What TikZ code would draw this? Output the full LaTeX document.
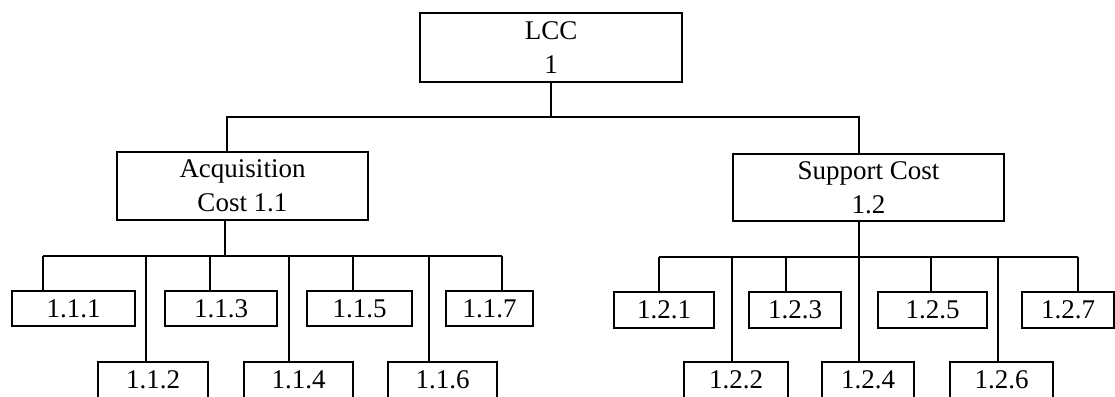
\documentclass[tikz,border=0pt]{standalone}
\usepackage{fontspec}
\setmainfont{Liberation Serif}
\begin{document}
\begin{tikzpicture}[x=1pt,y=-1pt,
  box/.style={draw, line width=1.6pt, inner sep=0pt, align=center,
    font=\fontsize{27}{34}\selectfont},
  leaf/.style={box, minimum height=35pt},
  link/.style={line width=1.6pt}]
\useasboundingbox (0,0) rectangle (1115,396);
\clip (0,0) rectangle (1115,396);

% top level
\node[box, minimum width=262pt, minimum height=69pt] (lcc) at (551,47.5) {LCC\\1};
\node[box, minimum width=251pt, minimum height=68pt] (acq) at (242.5,186) {Acquisition\\Cost 1.1};
\node[box, minimum width=271pt, minimum height=67pt] (spt) at (868.5,187.5) {Support Cost\\1.2};

% acquisition cost items
\node[leaf, minimum width=123pt] (n111) at (73.5,308.5) {1.1.1};
\node[leaf, minimum width=112pt] (n113) at (221,308.5) {1.1.3};
\node[leaf, minimum width=105pt] (n115) at (359.5,308.5) {1.1.5};
\node[leaf, minimum width=87pt]  (n117) at (489.5,308.5) {1.1.7};
\node[leaf, minimum width=110pt, minimum height=36pt] (n112) at (153,380) {1.1.2};
\node[leaf, minimum width=109pt, minimum height=36pt] (n114) at (298.5,380) {1.1.4};
\node[leaf, minimum width=109pt, minimum height=36pt] (n116) at (442.5,380) {1.1.6};

% support cost items
\node[leaf, minimum width=100pt, minimum height=36pt] (n121) at (664,310) {1.2.1};
\node[leaf, minimum width=92pt,  minimum height=36pt] (n123) at (795,310) {1.2.3};
\node[leaf, minimum width=109pt, minimum height=36pt] (n125) at (932.5,310) {1.2.5};
\node[leaf, minimum width=92pt,  minimum height=36pt] (n127) at (1068,310) {1.2.7};
\node[leaf, minimum width=104pt, minimum height=36pt] (n122) at (736,380) {1.2.2};
\node[leaf, minimum width=92pt,  minimum height=36pt] (n124) at (868,380) {1.2.4};
\node[leaf, minimum width=103pt, minimum height=36pt] (n126) at (1001.5,380) {1.2.6};

% top bus
\coordinate (ta) at (227,117);
\coordinate (ts) at (859,117);
\draw[link] (lcc.south) -- (lcc.south |- ta);
\draw[link] (acq.north -| ta) -- (ta) -- (ts) -- (spt.north -| ts);

% acquisition bus
\coordinate (la) at (225,256);
\coordinate (t111) at (43,256);
\coordinate (t112) at (146,256);
\coordinate (t113) at (210,256);
\coordinate (t114) at (289,256);
\coordinate (t115) at (353,256);
\coordinate (t116) at (429,256);
\coordinate (t117) at (502,256);
\draw[link] (acq.south -| la) -- (la);
\draw[link] (t111) -- (t117);
\foreach \n in {111,112,113,114,115,116,117}
  \draw[link] (t\n) -- (n\n.north -| t\n);

% support bus
\coordinate (t121) at (659,257);
\coordinate (t122) at (732,257);
\coordinate (t123) at (786,257);
\coordinate (t124) at (859,257);
\coordinate (t125) at (931,257);
\coordinate (t126) at (998,257);
\coordinate (t127) at (1078,257);
\draw[link] (spt.south -| t124) -- (t124);
\draw[link] (t121) -- (t127);
\foreach \n in {121,122,123,124,125,126,127}
  \draw[link] (t\n) -- (n\n.north -| t\n);
\end{tikzpicture}
\end{document}
